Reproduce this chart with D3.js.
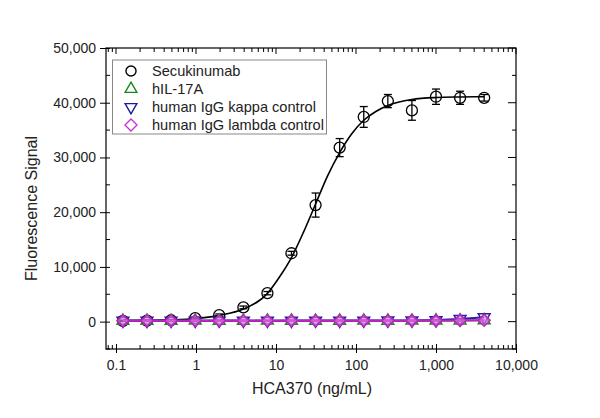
<!DOCTYPE html>
<html lang="en">
<head>
    <meta charset="UTF-8">
    <title>HCA370 binding</title>
    <style>
        body { margin: 0; background: #fff; }
        text { font-family: "Liberation Sans", Arial, sans-serif; }
    </style>
</head>
<body>
<script src='https://d3js.org/d3.v7.min.js'></script>
<script>
    // concentrations (ng/mL), 2-fold dilution
    const conc = [0.122, 0.244, 0.488, 0.977, 1.95, 3.91, 7.81, 15.6, 31.25, 62.5, 125, 250, 500, 1000, 2000, 4000];

    const secuMean = [150, 180, 250, 650, 1200, 2600, 5200, 12500, 21300, 31800, 37400, 40300, 38600, 41100, 40900, 40900];
    const secuErr = [100, 100, 100, 150, 200, 250, 300, 350, 2200, 1650, 1900, 1200, 1800, 1400, 1200, 600];

    const il17Mean = [150, 160, 150, 170, 160, 150, 170, 160, 150, 160, 170, 160, 170, 180, 200, 250];
    const kappaMean = [180, 170, 190, 180, 200, 190, 180, 190, 200, 190, 200, 210, 230, 280, 500, 800];
    const lambdaMean = [170, 160, 170, 160, 170, 160, 170, 160, 170, 160, 170, 170, 180, 190, 220, 250];

    // fitted curve
    const fitX = [0.122, 0.244, 0.488, 0.977, 1.95, 3.91, 7.81, 11, 15.6, 22, 31.25, 44, 62.5, 88, 125, 177, 250, 500, 1000, 2000, 4000];
    const fitY = [220, 250, 330, 560, 1150, 2300, 5150, 8100, 11700, 16300, 21500, 26600, 30900, 34300, 36800, 38400, 39500, 40600, 40950, 41050, 41100];

    const xTicks = [0.1, 1, 10, 100, 1000, 10000];
    const xTickLabels = ["0.1", "1", "10", "100", "1,000", "10,000"];
    const yTicks = [0, 10000, 20000, 30000, 40000, 50000];

    const legendNames = ["Secukinumab", "hIL-17A", "human IgG kappa control", "human IgG lambda control"];

    const W = 600, H = 418;
    const pLeft = 106, pRight = 516, pTop = 48, pBottom = 349;

    const svg = d3.select("body").append("svg")
        .attr("width", W).attr("height", H);

    const x = d3.scaleLog()
        .domain([Math.pow(10, -1.125), 10000])
        .range([pLeft, pRight]);
    const y = d3.scaleLinear()
        .domain([-5000, 50000])
        .range([pBottom, pTop]);

    // minor tick values
    const xMinor = [];
    for (let e = -2; e < 4; e++) {
        for (let m = 2; m <= 9; m++) {
            const v = m * Math.pow(10, e);
            if (v > x.domain()[0] && v < 10000) xMinor.push(v);
        }
    }
    const yMinor = d3.range(-5000, 50001, 5000).filter(v => v % 10000 !== 0);

    const axisColor = "#000";

    // bottom axis
    const gx = svg.append("g")
        .attr("transform", `translate(0,${pBottom})`)
        .call(d3.axisBottom(x).tickValues(xTicks).tickFormat((d, i) => xTickLabels[i]).tickSize(5).tickPadding(6));
    gx.select(".domain").remove();
    gx.selectAll("text").attr("font-size", 14).attr("fill", "#222");
    gx.selectAll(".tick line").attr("y1", -5).attr("y2", 4);
    gx.selectAll(".minor").data(xMinor).enter().append("line")
        .attr("x1", d => x(d)).attr("x2", d => x(d))
        .attr("y1", 0).attr("y2", -4).attr("stroke", axisColor);

    // top axis (mirror)
    const gxt = svg.append("g").attr("transform", `translate(0,${pTop})`);
    gxt.selectAll(".maj").data(xTicks).enter().append("line")
        .attr("x1", d => x(d)).attr("x2", d => x(d))
        .attr("y1", 0).attr("y2", 6).attr("stroke", axisColor);
    gxt.selectAll(".min").data(xMinor).enter().append("line")
        .attr("x1", d => x(d)).attr("x2", d => x(d))
        .attr("y1", 0).attr("y2", 4).attr("stroke", axisColor);

    // left axis
    const gy = svg.append("g")
        .attr("transform", `translate(${pLeft},0)`)
        .call(d3.axisLeft(y).tickValues(yTicks).tickFormat(d3.format(",")).tickSize(6).tickPadding(4));
    gy.select(".domain").remove();
    gy.selectAll("text").attr("font-size", 14).attr("fill", "#222");
    gy.selectAll(".tick line").attr("x1", 4);
    gy.selectAll(".minor").data(yMinor).enter().append("line")
        .attr("y1", d => y(d)).attr("y2", d => y(d))
        .attr("x1", 0).attr("x2", 4).attr("stroke", axisColor);

    // right axis (mirror)
    const gyr = svg.append("g").attr("transform", `translate(${pRight},0)`);
    gyr.selectAll(".maj").data(yTicks).enter().append("line")
        .attr("y1", d => y(d)).attr("y2", d => y(d))
        .attr("x1", 0).attr("x2", -8).attr("stroke", axisColor);
    gyr.selectAll(".min").data(yMinor).enter().append("line")
        .attr("y1", d => y(d)).attr("y2", d => y(d))
        .attr("x1", 0).attr("x2", -4).attr("stroke", axisColor);

    // frame
    svg.append("rect")
        .attr("x", pLeft).attr("y", pTop)
        .attr("width", pRight - pLeft).attr("height", pBottom - pTop)
        .attr("fill", "none").attr("stroke", axisColor).attr("stroke-width", 1.2);

    // axis titles
    svg.append("text")
        .attr("x", (pLeft + pRight) / 2 + 1).attr("y", 394)
        .attr("text-anchor", "middle").attr("font-size", 16).attr("fill", "#222")
        .text("HCA370 (ng/mL)");
    svg.append("text")
        .attr("transform", `translate(37,${(pTop + pBottom) / 2 + 10}) rotate(-90)`)
        .attr("text-anchor", "middle").attr("font-size", 16).attr("fill", "#222")
        .text("Fluorescence Signal");

    const line = d3.line().x(d => x(d[0])).y(d => y(d[1]));

    // Secukinumab fit
    svg.append("path")
        .datum(d3.zip(fitX, fitY))
        .attr("fill", "none").attr("stroke", "#000").attr("stroke-width", 1.6)
        .attr("d", line.curve(d3.curveMonotoneX));

    // error bars
    const eb = svg.append("g").attr("stroke", "#000").attr("stroke-width", 1.3);
    conc.forEach((c, i) => {
        const cx = x(c), y0 = y(secuMean[i] - secuErr[i]), y1 = y(secuMean[i] + secuErr[i]);
        eb.append("line").attr("x1", cx).attr("x2", cx).attr("y1", y0).attr("y2", y1);
        eb.append("line").attr("x1", cx - 4).attr("x2", cx + 4).attr("y1", y0).attr("y2", y0);
        eb.append("line").attr("x1", cx - 4).attr("x2", cx + 4).attr("y1", y1).attr("y2", y1);
    });
    svg.append("g").selectAll("circle").data(d3.zip(conc, secuMean)).enter().append("circle")
        .attr("cx", d => x(d[0])).attr("cy", d => y(d[1])).attr("r", 5.5)
        .attr("fill", "none").attr("stroke", "#000").attr("stroke-width", 1.3);

    const tri = d3.symbol().type(d3.symbolTriangle).size(60);
    const dia = "M0,-6L6,0L0,6L-6,0Z";

    const controls = [
        { vals: il17Mean, color: "#1a8a1a", fill: "none", path: tri(), rot: 0 },
        { vals: kappaMean, color: "#2a1ca8", fill: "none", path: tri(), rot: 180 },
        { vals: lambdaMean, color: "#c41fc4", fill: "rgba(220,120,220,0.65)", path: dia, rot: 0 }
    ];
    controls.forEach(s => {
        svg.append("path")
            .datum(d3.zip(conc, s.vals))
            .attr("fill", "none").attr("stroke", s.color).attr("stroke-width", 2)
            .attr("d", d3.line().x(d => x(d[0])).y(d => y(d[1])));
        svg.append("g").selectAll("path").data(d3.zip(conc, s.vals)).enter().append("path")
            .attr("d", s.path)
            .attr("transform", d => `translate(${x(d[0])},${y(d[1])}) rotate(${s.rot})`)
            .attr("fill", s.fill).attr("stroke", s.color).attr("stroke-width", 1.5);
    });

    // legend
    const lg = svg.append("g");
    lg.append("rect")
        .attr("x", 112.5).attr("y", 60).attr("width", 214).attr("height", 74)
        .attr("fill", "#fff").attr("stroke", "#888").attr("stroke-width", 1);
    const rowY = d => 71 + d * 18;
    const lgSyms = [
        { path: d3.symbol().type(d3.symbolCircle).size(80)(), color: "#000", rot: 0 },
        { path: tri(), color: "#1a8a1a", rot: 0 },
        { path: tri(), color: "#1c1c9c", rot: 180 },
        { path: dia, color: "#cc33cc", rot: 0 }
    ];
    legendNames.forEach((name, i) => {
        lg.append("path")
            .attr("d", lgSyms[i].path)
            .attr("transform", `translate(131,${rowY(i)}) rotate(${lgSyms[i].rot})`)
            .attr("fill", "none").attr("stroke", lgSyms[i].color).attr("stroke-width", 1.4);
        lg.append("text")
            .attr("x", 152).attr("y", rowY(i) + 5)
            .attr("font-size", 14.6).attr("fill", "#222")
            .text(name);
    });
</script>
</body>
</html>
